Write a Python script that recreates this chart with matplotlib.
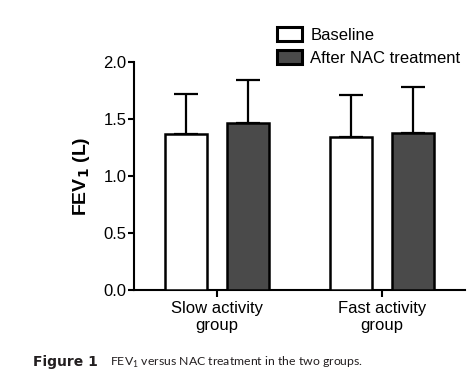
import matplotlib
matplotlib.use("Agg")
import matplotlib.pyplot as plt
from matplotlib.patches import Patch
import numpy as np

groups = ["Slow activity\ngroup", "Fast activity\ngroup"]
series = ["Baseline", "After NAC treatment"]
baseline = [1.37, 1.345]
baseline_sd = [0.347, 0.368]
after_nac = [1.465, 1.375]
after_nac_sd = [0.38, 0.41]
yticks = [0.0, 0.5, 1.0, 1.5, 2.0]
ytick_labels = ["0.0", "0.5", "1.0", "1.5", "2.0"]

plt.rcParams["font.family"] = ["Liberation Sans", "DejaVu Sans"]

W, H = 475, 375
fig = plt.figure(figsize=(W / 100, H / 100), dpi=100)
ax = fig.add_axes([134 / W, 1 - 290 / H, 331 / W, 228 / H])

x = np.arange(len(groups))
width = 0.25
off = 0.1875
dark = "#4a4a4a"
lw = 1.8

for vals, sds, dx, fc in [(baseline, baseline_sd, -off, "white"),
                          (after_nac, after_nac_sd, off, dark)]:
    ax.errorbar(x + dx, vals, yerr=[np.zeros(len(vals)), sds], fmt="none",
                ecolor="black", elinewidth=1.6, capsize=8.5, capthick=1.6, zorder=2)
    ax.bar(x + dx, vals, width, color=fc, edgecolor="black", linewidth=lw, zorder=3)

ax.set_xlim(-0.503, 1.503)
ax.set_ylim(0, 2.0)
ax.set_yticks(yticks)
ax.set_yticklabels(ytick_labels)
ax.set_xticks(x)
ax.set_xticklabels(groups)
for s in ["top", "right"]:
    ax.spines[s].set_visible(False)
for s in ["left", "bottom"]:
    ax.spines[s].set_linewidth(1.5)
ax.tick_params(axis="y", length=4.5, width=1.5, pad=1, labelsize=12)
ax.tick_params(axis="x", length=5, width=1.5, pad=3, labelsize=12)
for t in ax.get_xticklabels():
    t.set_linespacing(1.15)

ax.set_ylabel(r"FEV$_\mathbf{1}$ (L)", fontsize=14, fontweight="bold", labelpad=8)

handles = [Patch(facecolor="white", edgecolor="black", linewidth=2.2),
           Patch(facecolor=dark, edgecolor="black", linewidth=2.2)]
fig.legend(handles, series, loc="upper left",
           bbox_to_anchor=(277 / W, 1 - 27 / H), frameon=False, fontsize=12,
           handlelength=1.5, handleheight=0.9, handletextpad=0.5,
           labelspacing=0.45, borderpad=0, borderaxespad=0)

fig.text(33 / W, 1 - 362 / H, "Figure 1", fontsize=10, fontweight="bold",
         family=["DejaVu Sans"], va="center", ha="left", color="#231f20")
fig.text(110 / W, 1 - 362 / H, r"FEV$_\mathregular{1}$ versus NAC treatment in the two groups.",
         fontsize=8.8, family=["Lato", "DejaVu Sans"], va="center", ha="left", color="#231f20")

fig.savefig("out.png", dpi=100)
